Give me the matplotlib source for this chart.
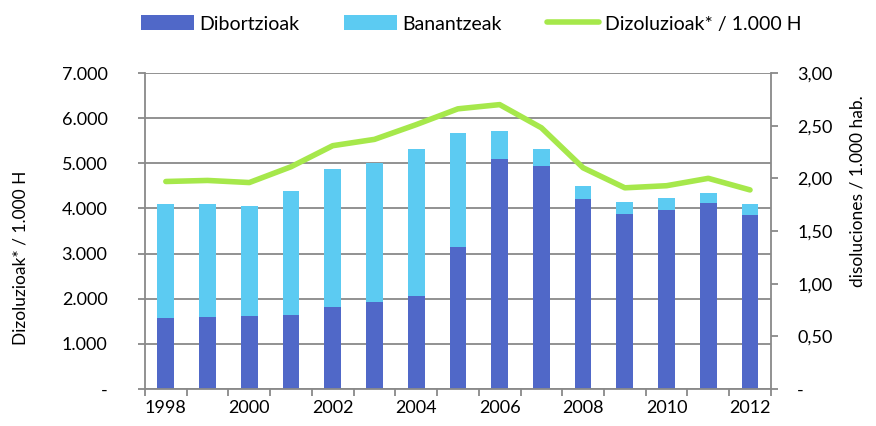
import numpy as np
import matplotlib.pyplot as plt
from matplotlib.ticker import FuncFormatter

plt.rcParams['font.family'] = ['Lato', 'DejaVu Sans']

years = list(range(1998, 2013))
dibortzioak = [1575, 1596, 1611, 1640, 1825, 1927, 2060, 3142, 5085, 4930, 4202, 3885, 3959, 4114, 3849]
totals = [4099, 4106, 4062, 4386, 4863, 5011, 5320, 5673, 5717, 5313, 4503, 4143, 4223, 4349, 4099]
banantzeak = [t - d for t, d in zip(totals, dibortzioak)]
rate = [1.97, 1.98, 1.96, 2.11, 2.31, 2.37, 2.51, 2.66, 2.70, 2.48, 2.10, 1.91, 1.93, 2.00, 1.89]

dark = '#5068C8'
light = '#5CCBF2'
green = '#A6E84B'
grey = '#898989'

fig = plt.figure(figsize=(8.76, 4.26), dpi=100)
ax = fig.add_axes([0.1655, 0.0869, 0.7145, 0.7417])
x = np.arange(len(years))

ax.set_axisbelow(True)
ax.grid(axis='y', color=grey, lw=1.3)
b1 = ax.bar(x, dibortzioak, width=0.4, color=dark, label='Dibortzioak')
b2 = ax.bar(x, banantzeak, width=0.4, bottom=dibortzioak, color=light, label='Banantzeak')

ax.set_xlim(-0.5, len(years) - 0.5)
ax.set_ylim(0, 7000)
ax.set_yticks(range(0, 7001, 1000))
ax.yaxis.set_major_formatter(FuncFormatter(lambda v, p: '-' if v == 0 else f'{int(v):,}'.replace(',', '.')))
ax.set_xticks(x[::2])
ax.set_xticklabels([str(y) for y in years[::2]])
ax.set_xticks(np.arange(-0.5, len(years), 1), minor=True)
ax.tick_params(axis='x', which='major', length=0, pad=8, labelsize=13)
ax.tick_params(axis='x', which='minor', length=5, color=grey, width=1.3)
ax.tick_params(axis='y', length=5, color=grey, width=1.3, labelsize=13, pad=22)
for s in ['left', 'bottom', 'right']:
    ax.spines[s].set_color(grey)
    ax.spines[s].set_linewidth(1.3)
ax.spines['top'].set_visible(False)
ax.set_ylabel('Dizoluzioak* / 1.000 H', fontsize=12.5, labelpad=24, y=0.416)

ax2 = ax.twinx()
ln, = ax2.plot(x, rate, color=green, lw=4, solid_capstyle='round', label='Dizoluzioak* / 1.000 H')
ax2.set_ylim(0, 3)
ax2.set_yticks(np.arange(0, 3.01, 0.5))
ax2.yaxis.set_major_formatter(FuncFormatter(lambda v, p: '-' if v == 0 else f'{v:.2f}'.replace('.', ',')))
ax2.tick_params(axis='y', length=5, color=grey, width=1.3, labelsize=13, pad=14)
for s in ['left', 'bottom', 'right', 'top']:
    ax2.spines[s].set_visible(False)
ax2.set_ylabel('disoluciones / 1.000 hab.', fontsize=12.5, labelpad=12, y=0.625)

fig.legend(handles=[b1, b2, ln], loc='upper center', bbox_to_anchor=(0.538, 1.005), ncol=3,
           frameon=False, fontsize=14, handlelength=2.7, handleheight=0.8,
           columnspacing=2.3, handletextpad=0.3)

fig.savefig('out.png', dpi=100)
